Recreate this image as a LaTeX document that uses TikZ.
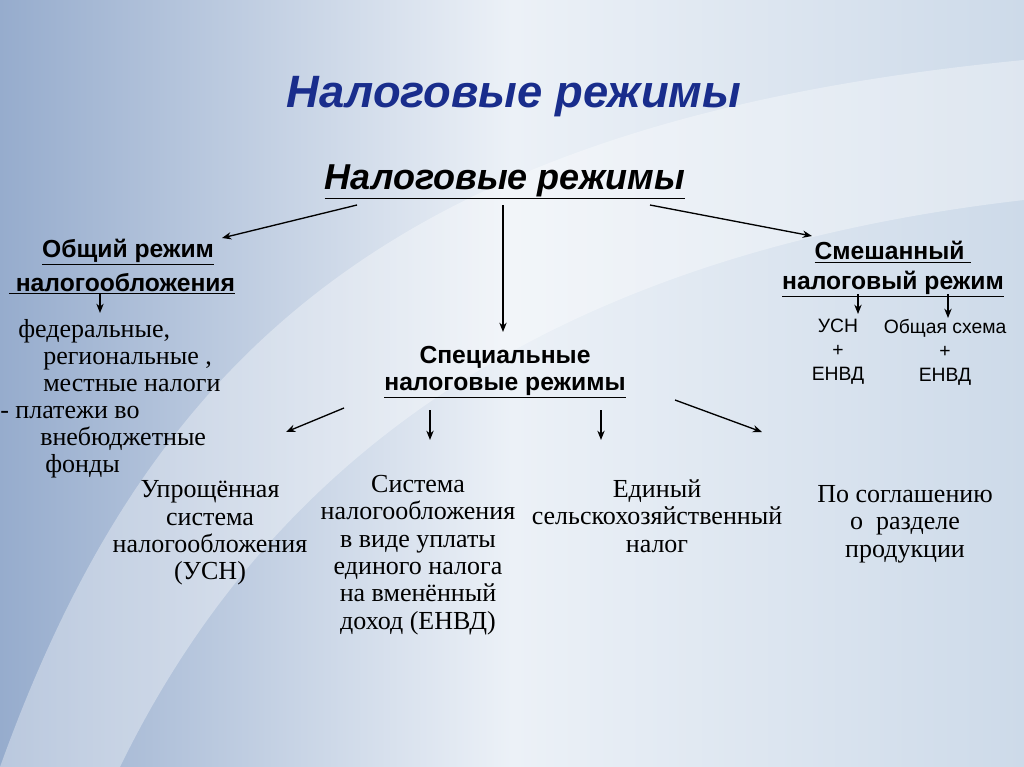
\documentclass[tikz,border=0pt]{standalone}
\usetikzlibrary{arrows.meta}
\usepackage{fontspec}
\setmainfont{Liberation Serif}
\newfontfamily\hsans{Liberation Sans}
\begin{document}
\begin{tikzpicture}[x=0.75pt,y=-0.75pt,
  arr/.style={-{Stealth[length=7pt,width=5.5pt]},line width=1pt},
  head/.style={font=\hsans\bfseries\fontsize{18.5}{21}\selectfont,inner sep=0},
  sm/.style={font=\hsans\fontsize{14.5}{15}\selectfont,inner sep=0},
  ser/.style={font=\fontsize{19.5}{20.5}\selectfont,inner sep=0,align=center},
  ln/.style={font=\fontsize{19.5}{20.5}\selectfont,inner sep=0,anchor=base west}]
\useasboundingbox (0,0) rectangle (1024,767);
\shade[left color={rgb,255:red,150;green,172;blue,205},right color={rgb,255:red,205;green,218;blue,233},middle color={rgb,255:red,236;green,241;blue,247}] (0,0) rectangle (1024,767);
\fill[white,opacity=0.35] (0,767) .. controls (150,350) and (400,120) .. (1024,60) -- (1024,200) .. controls (500,260) and (250,500) .. (120,767) -- cycle;

\node[font=\hsans\bfseries\itshape\fontsize{34}{38}\selectfont,text={rgb,255:red,25;green,45;blue,140}] (t) at (514,97) {Налоговые режимы};
\node[font=\hsans\bfseries\itshape\fontsize{27}{30}\selectfont] (t2) at (505,182) {\underline{Налоговые режимы}};

\node[head] (g1) at (128,252) {\underline{Общий режим}};
\node[head] (g2) at (122,284) {\underline{\ налогообложения}};
\node[head] (m1) at (893,252) {\underline{Смешанный\ }};
\node[head] (m2) at (893,284) {\underline{налоговый режим}};
\node[head] (s1) at (505,357) {Специальные};
\node[head] (s2) at (505,388) {\underline{налоговые режимы}};

\node[ln] (l1) at (18,337) {федеральные,};
\node[ln] (l2) at (43,364) {региональные ,};
\node[ln] (l3) at (43,391) {местные налоги};
\node[ln] (l4) at (0,418) {- платежи во};
\node[ln] (l5) at (40,445) {внебюджетные};
\node[ln] (l6) at (45,472) {фонды};

\node[sm,align=center] (u1) at (838,352) {УСН\\[3pt]+\\[3pt]ЕНВД};
\node[sm,align=center] (u2) at (945,352) {Общая схема\\[3pt]+\\[3pt]ЕНВД};

\node[ser] (b1) at (210,533) {Упрощённая\\система\\налогообложения\\(УСН)};
\node[ser] (b2) at (418,555) {Система\\налогообложения\\в виде уплаты\\единого налога\\на вменённый\\доход (ЕНВД)};
\node[ser] (b3) at (657,516) {Единый\\сельскохозяйственный\\налог};
\node[ser] (b4) at (905,524) {По соглашению\\о\ \ разделе\\продукции};

\coordinate (a1) at (357,205); \coordinate (a1e) at (222,238);
\coordinate (a2) at (503,205); \coordinate (a2e) at (503,332);
\coordinate (a3) at (650,205); \coordinate (a3e) at (812,236);
\coordinate (c1) at (100,294); \coordinate (c1e) at (100,313);
\coordinate (c2) at (858,294); \coordinate (c2e) at (858,314);
\coordinate (c3) at (948,294); \coordinate (c3e) at (948,318);
\coordinate (d1) at (344,408); \coordinate (d1e) at (286,432);
\coordinate (d2) at (430,410); \coordinate (d2e) at (430,440);
\coordinate (d3) at (601,410); \coordinate (d3e) at (601,440);
\coordinate (d4) at (675,400); \coordinate (d4e) at (762,432);
\foreach \p in {a1,a2,a3,c1,c2,c3,d1,d2,d3,d4}
  \draw[arr] (\p) -- (\p e);
\end{tikzpicture}
\end{document}
